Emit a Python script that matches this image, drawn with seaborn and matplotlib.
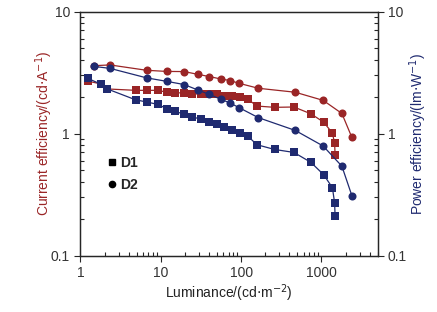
import numpy as np
import pandas as pd
import seaborn as sns
import matplotlib.pyplot as plt
from matplotlib.lines import Line2D
from matplotlib.ticker import NullFormatter, FuncFormatter

# D1 (squares)
lum_d1 = [1.23, 1.81, 2.16, 4.86, 6.8, 9.3, 11.8, 15.0, 19.6, 24.8, 31.6, 40.0, 49.9,
          62.0, 78.0, 97.0, 122, 157, 262, 455, 741, 1065, 1370, 1460, 1480]
ce_d1 = [2.69, 2.55, 2.32, 2.26, 2.26, 2.26, 2.18, 2.16, 2.15, 2.12, 2.10, 2.09, 2.09,
         2.05, 2.02, 1.99, 1.91, 1.68, 1.64, 1.65, 1.45, 1.24, 1.01, 0.83, 0.67]
pe_d1 = [2.84, 2.53, 2.32, 1.89, 1.81, 1.73, 1.60, 1.52, 1.44, 1.37, 1.31, 1.25, 1.19,
         1.13, 1.07, 1.01, 0.95, 0.81, 0.74, 0.70, 0.58, 0.46, 0.36, 0.27, 0.21]

# D2 (circles)
lum_d2 = [1.48, 2.34, 6.66, 11.8, 19.6, 28.7, 40.4, 56.0, 73.0, 94.4, 164, 473, 1052, 1798, 2393]
ce_d2 = [3.60, 3.65, 3.30, 3.23, 3.22, 3.06, 2.93, 2.80, 2.72, 2.58, 2.35, 2.18, 1.87, 1.46, 0.93]
pe_d2 = [3.55, 3.42, 2.86, 2.68, 2.52, 2.28, 2.09, 1.91, 1.78, 1.63, 1.35, 1.06, 0.79, 0.54, 0.31]

red = '#9a2526'
blue = '#1f2a70'

sns.set_style('ticks')
plt.rcParams['font.family'] = ['Liberation Sans', 'DejaVu Sans']

fig = plt.figure(figsize=(4.37, 3.12), dpi=100)
ax = fig.add_axes([0.184, 0.181, 0.68, 0.782])

d1 = pd.DataFrame({'L': lum_d1, 'CE': ce_d1, 'PE': pe_d1})
d2 = pd.DataFrame({'L': lum_d2, 'CE': ce_d2, 'PE': pe_d2})

kw = dict(linewidth=0.9, markeredgewidth=0)
sns.lineplot(data=d1, x='L', y='CE', ax=ax, color=red, marker='s', markersize=5.2, **kw)
sns.lineplot(data=d2, x='L', y='CE', ax=ax, color=red, marker='o', markersize=5.8, **kw)
sns.lineplot(data=d1, x='L', y='PE', ax=ax, color=blue, marker='s', markersize=5.2, **kw)
sns.lineplot(data=d2, x='L', y='PE', ax=ax, color=blue, marker='o', markersize=5.8, **kw)

ax.set_xscale('log')
ax.set_yscale('log')
ax.set_xlim(1, 5000)
ax.set_ylim(0.1, 10)

fmt = FuncFormatter(lambda v, p: '%g' % v)
ax.xaxis.set_major_formatter(fmt)
ax.yaxis.set_major_formatter(fmt)
ax.xaxis.set_minor_formatter(NullFormatter())
ax.yaxis.set_minor_formatter(NullFormatter())

ax.set_xlabel('Luminance/(cd$\\cdot$m$^{-2}$)', fontsize=10, color='#222222', labelpad=2)
ax.set_ylabel('Current efficiency/(cd$\\cdot$A$^{-1}$)', fontsize=10, color=red, labelpad=-3)

ax2 = ax.twinx()
ax2.set_yscale('log')
ax2.set_ylim(0.1, 10)
ax2.yaxis.set_major_formatter(fmt)
ax2.yaxis.set_minor_formatter(NullFormatter())
ax2.set_ylabel('Power efficiency/(lm$\\cdot$W$^{-1}$)', fontsize=10, color=blue, labelpad=0)

for a in (ax, ax2):
    a.tick_params(which='major', direction='out', length=4, width=0.8,
                  labelsize=10, labelcolor='#333333')
    a.tick_params(which='minor', direction='in', length=3, width=0.8)
    for s in a.spines.values():
        s.set_linewidth(0.9)
        s.set_visible(True)
ax.tick_params(top=False, which='both')
ax2.tick_params(top=False, which='both')

handles = [Line2D([], [], color='black', marker='s', linestyle='none', markersize=4.5),
           Line2D([], [], color='black', marker='o', linestyle='none', markersize=4.5)]
leg = ax.legend(handles, ['D1', 'D2'], loc='upper left', bbox_to_anchor=(0.05, 0.46),
                frameon=False, handlelength=0.6, handletextpad=0.3, labelspacing=0.6,
                prop={'weight': 'bold', 'size': 10})

fig.savefig('out.png', dpi=100)
